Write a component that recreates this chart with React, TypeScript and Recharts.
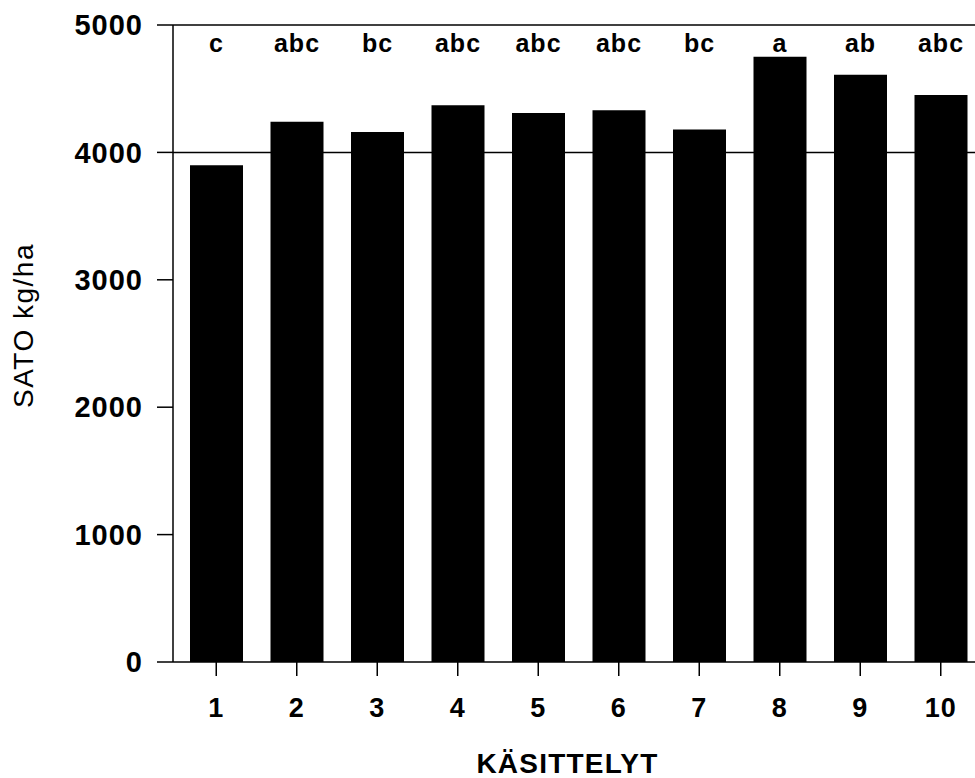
import { BarChart, Bar, XAxis, YAxis, ReferenceLine, LabelList } from "recharts";

const treatments = ["1", "2", "3", "4", "5", "6", "7", "8", "9", "10"];
const yields = [3900, 4240, 4160, 4370, 4310, 4330, 4180, 4750, 4610, 4450];
const letters = ["c", "abc", "bc", "abc", "abc", "abc", "bc", "a", "ab", "abc"];
const yTicks = [0, 1000, 2000, 3000, 4000, 5000];
const gridValues = [4000, 5000];

const data = treatments.map((t, i) => ({ name: t, sato: yields[i], group: letters[i] }));

const FONT = "'Liberation Sans', Arial, Helvetica, sans-serif";

const LetterLabel = (props: any) => {
  const { x, width, value } = props;
  return (
    <text x={x + width / 2} y={52} textAnchor="middle" fontFamily={FONT} fontWeight="bold" fontSize={25} letterSpacing={1} fill="#000">
      {value}
    </text>
  );
};

const YTitle = (props: any) => {
  const { viewBox } = props;
  const cx = viewBox.x + 23;
  const cy = viewBox.y + viewBox.height / 2 - 18;
  return (
    <text x={cx} y={cy} transform={`rotate(-90, ${cx}, ${cy})`} textAnchor="middle" dominantBaseline="central" fontFamily={FONT} fontSize={28} letterSpacing={1.5} fill="#000">
      SATO kg/ha
    </text>
  );
};

const XTitle = (props: any) => {
  const { viewBox } = props;
  const cx = viewBox.x + viewBox.width / 2 - 11;
  const cy = viewBox.y + viewBox.height - 5;
  return (
    <text x={cx} y={cy} textAnchor="middle" fontFamily={FONT} fontWeight="bold" fontSize={28} letterSpacing={1.2} fill="#000">
      KÄSITTELYT
    </text>
  );
};

export default function App() {
  return (
    <div style={{ position: "fixed", top: 0, left: 0, width: 975, height: 778, overflow: "hidden", background: "#fff" }}>
      <BarChart width={1000} height={778} data={data} margin={{ top: 25, right: 16, left: 0, bottom: 0 }}>
        {gridValues.map((v) => (
          <ReferenceLine key={v} y={v} stroke="#000" strokeWidth={1.5} />
        ))}
        <XAxis
          dataKey="name"
          height={116}
          padding={{ left: 3, right: 3 }}
          stroke="#000"
          strokeWidth={1.5}
          tickSize={14}
          tickMargin={22}
          tick={{ fill: "#000", fontFamily: FONT, fontWeight: "bold", fontSize: 27, letterSpacing: 1 }}
          label={{ content: XTitle }}
        />
        <YAxis
          width={173}
          domain={[0, 5000]}
          ticks={yTicks}
          interval={0}
          stroke="#000"
          strokeWidth={1.5}
          tickSize={16}
          tickMargin={14}
          tick={{ fill: "#000", fontFamily: FONT, fontWeight: "bold", fontSize: 29, letterSpacing: 1 }}
          label={{ content: YTitle }}
        />
        <Bar dataKey="sato" fill="#000" barSize={53} isAnimationActive={false}>
          <LabelList dataKey="group" content={LetterLabel} />
        </Bar>
      </BarChart>
    </div>
  );
}
